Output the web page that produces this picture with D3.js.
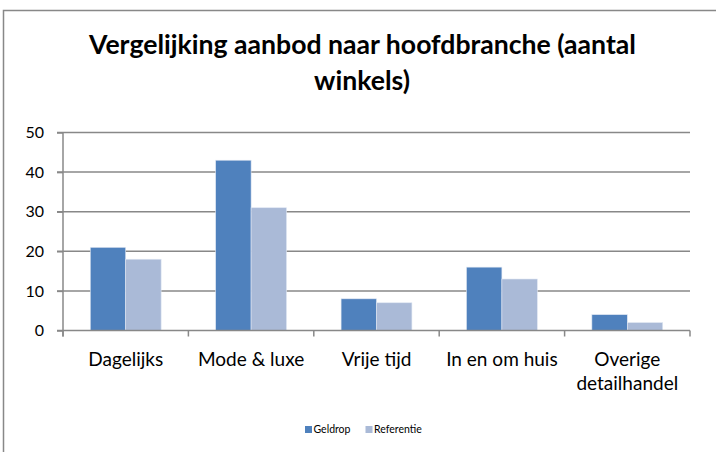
<!DOCTYPE html>
<meta charset="utf-8">
<style>
body { margin: 0; background: #fff; }
text { font-family: Lato, "Open Sans", sans-serif; fill: #000; }
</style>
<script src="https://d3js.org/d3.v7.min.js"></script>
<body>
<script>

var categories = ["Dagelijks", "Mode & luxe", "Vrije tijd", "In en om huis", "Overige detailhandel"];
var series = ["Geldrop", "Referentie"];
var geldrop = [21, 43, 8, 16, 4];
var referentie = [18, 31, 7, 13, 2];
var yTicks = [0, 10, 20, 30, 40, 50];
var colors = ["#4f81bd", "#aabad7"];

var width = 716,
    height = 452;

var svg = d3.select("body").append("svg")
    .attr("width", width)
    .attr("height", height);

// chart frame (runs off the right and bottom edges)
svg.append("rect")
    .attr("x", 3.5).attr("y", 10.5)
    .attr("width", 800).attr("height", 600)
    .attr("fill", "none")
    .attr("stroke", "#888")
    .attr("stroke-width", 1.5);

// shrink/grow font so the text fills a measured width
function fitWidth(sel, target) {
  var w = sel.node().getComputedTextLength();
  var fs = parseFloat(sel.attr("font-size"));
  return fs * target / w;
}

var t1 = svg.append("text")
    .attr("x", 362.5).attr("y", 54)
    .attr("text-anchor", "middle")
    .attr("font-weight", "bold")
    .attr("font-size", 24)
    .text("Vergelijking aanbod naar hoofdbranche (aantal");
var tfs = fitWidth(t1, 547);
t1.attr("font-size", tfs);
svg.append("text")
    .attr("x", 362).attr("y", 90)
    .attr("text-anchor", "middle")
    .attr("font-weight", "bold")
    .attr("font-size", tfs)
    .text("winkels)");

var x = d3.scaleBand()
    .domain(categories)
    .range([63, 690]);

var x1 = d3.scaleBand()
    .domain(series)
    .range([0, x.bandwidth()])
    .paddingOuter(0.77);

var y = d3.scaleLinear()
    .domain([0, 50])
    .range([330.5, 132.5]);

var data = categories.map(function(c, i) {
  return { cat: c, values: [geldrop[i], referentie[i]] };
});

// gridlines
svg.append("g").selectAll("line")
  .data(yTicks.filter(function(d) { return d > 0; }))
  .enter().append("line")
    .attr("x1", 57).attr("x2", x.range()[1])
    .attr("y1", function(d) { return y(d); })
    .attr("y2", function(d) { return y(d); })
    .attr("stroke", "#888")
    .attr("stroke-width", 1.5);

// bars
var groups = svg.append("g").selectAll("g")
  .data(data)
  .enter().append("g")
    .attr("transform", function(d) { return "translate(" + x(d.cat) + ",0)"; });

groups.selectAll("rect")
  .data(function(d) { return d.values.map(function(v, j) { return { s: series[j], v: v, j: j }; }); })
  .enter().append("rect")
    .attr("x", function(d) { return x1(d.s); })
    .attr("width", x1.bandwidth())
    .attr("y", function(d) { return y(d.v); })
    .attr("height", function(d) { return y(0) - y(d.v); })
    .attr("fill", function(d) { return colors[d.j]; })
    .attr("stroke", "#dfe7f2")
    .attr("stroke-width", 0.6);

// y axis
var yAxis = svg.append("g")
    .attr("transform", "translate(63,0)")
    .call(d3.axisLeft(y).tickValues(yTicks).tickSize(6).tickPadding(13));
yAxis.select(".domain").attr("stroke", "#888").attr("stroke-width", 1.5)
    .attr("d", "M0," + y(50) + "V" + (y(0) + 6));
yAxis.selectAll(".tick line").attr("stroke", "#888").attr("stroke-width", 1.5);
yAxis.selectAll(".tick text")
    .attr("font-size", 16)
    .attr("font-family", "Lato, sans-serif")
    .attr("fill", "#000");

// x axis line and boundary ticks
svg.append("line")
    .attr("x1", 57).attr("x2", x.range()[1])
    .attr("y1", y(0)).attr("y2", y(0))
    .attr("stroke", "#888").attr("stroke-width", 1.5);

var bounds = categories.map(function(c) { return x(c); }).concat([x.range()[1]]);
svg.append("g").selectAll("line")
  .data(bounds)
  .enter().append("line")
    .attr("x1", function(d) { return d; }).attr("x2", function(d) { return d; })
    .attr("y1", y(0)).attr("y2", y(0) + 6)
    .attr("stroke", "#888").attr("stroke-width", 1.5);

// category labels
var probe = svg.append("text").attr("font-size", 16).text("Dagelijks");
var cfs = fitWidth(probe, 75);
probe.remove();

var labels = svg.append("g").selectAll("text")
  .data(categories)
  .enter().append("text")
    .attr("text-anchor", "middle")
    .attr("font-size", cfs)
    .attr("transform", function(d) { return "translate(" + (x(d) + x.bandwidth() / 2) + ",366)"; });

labels.each(function(d) {
  var words = d === "Overige detailhandel" ? ["Overige", "detailhandel"] : [d];
  var t = d3.select(this);
  words.forEach(function(w, i) {
    t.append("tspan").attr("x", 0).attr("y", i * 24).text(w);
  });
});

// legend
var legend = svg.append("g").attr("transform", "translate(305,0)");
var lx = [0, 60.5];
series.forEach(function(s, i) {
  legend.append("rect")
      .attr("x", lx[i]).attr("y", 426)
      .attr("width", 7).attr("height", 7)
      .attr("fill", colors[i]);
  legend.append("text")
      .attr("x", lx[i] + 8.5).attr("y", 433)
      .attr("font-size", 10.5)
      .text(s);
});

</script>
